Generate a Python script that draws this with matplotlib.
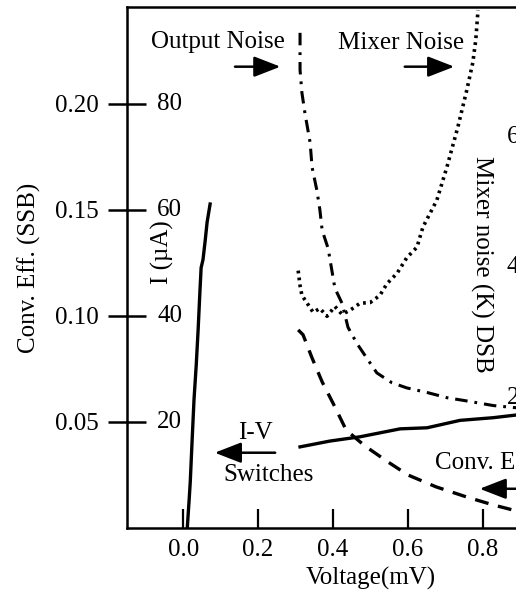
"""Recreate the SIS mixer I-V / conversion efficiency / noise figure."""

import matplotlib
matplotlib.use("Agg")
import matplotlib.pyplot as plt

plt.rcParams["font.family"] = ["Liberation Serif", "DejaVu Serif"]
plt.rcParams["font.size"] = 18
plt.rcParams["lines.scale_dashes"] = False

# I-V curve below the switching point (V in mV, I in uA)
iv_v = [0.011, 0.016, 0.019, 0.024, 0.029, 0.035, 0.040, 0.045, 0.048, 0.053, 0.059, 0.064, 0.072]
iv_i = [0.0, 5.3, 8.7, 16.6, 24.2, 30.8, 37.4, 44.9, 49.1, 50.6, 54.3, 57.7, 61.1]

# I-V branch after switching
sw_v = [0.312, 0.392, 0.472, 0.579, 0.651, 0.739, 0.827, 0.888, 0.95]
sw_i = [15.3, 16.4, 17.2, 18.7, 18.9, 20.3, 20.8, 21.3, 22.2]

# conversion efficiency (SSB)
eff_v = [0.307, 0.320, 0.344, 0.371, 0.405, 0.435, 0.485, 0.547, 0.600, 0.675, 0.757, 0.827, 0.880, 0.93]
eff_y = [0.0934, 0.0911, 0.0802, 0.0689, 0.0571, 0.0462, 0.0387, 0.0311, 0.0250,
         0.0194, 0.0146, 0.0109, 0.0085, 0.0068]

# output noise (K)
out_v = [0.312, 0.312, 0.317, 0.325, 0.339, 0.344, 0.357, 0.365, 0.371, 0.387, 0.397, 0.405,
         0.424, 0.440, 0.464, 0.491, 0.517, 0.557, 0.597, 0.651, 0.704, 0.757, 0.827, 0.880, 0.95]
out_t = [76.0, 70.3, 66.8, 63.7, 59.1, 55.4, 51.8, 48.8, 45.7, 42.9, 39.5, 36.8,
         34.5, 30.8, 28.3, 26.0, 23.8, 22.3, 21.5, 20.8, 20.0, 19.5, 18.8, 18.5, 18.2]

# mixer noise DSB (K)
mix_v = [0.307, 0.312, 0.317, 0.331, 0.347, 0.365, 0.384, 0.405, 0.424, 0.445, 0.472, 0.499,
         0.525, 0.544, 0.571, 0.597, 0.624, 0.640, 0.677, 0.704, 0.733, 0.757, 0.773, 0.781, 0.787]
mix_t = [39.5, 37.2, 35.7, 34.5, 33.1, 33.7, 32.5, 34.0, 32.8, 33.4, 34.5, 34.6,
         35.7, 37.5, 39.1, 41.5, 43.1, 46.2, 50.3, 55.4, 61.5, 67.2, 71.4, 74.9, 79.5]

eff_ticks = [0.05, 0.10, 0.15, 0.20]
i_ticks = [20, 40, 60, 80]
t_ticks = [20, 40, 60]
v_ticks = [0.0, 0.2, 0.4, 0.6, 0.8, 1.0]

I_MAX = 98.3
T_MAX = 80.0

fig = plt.figure(figsize=(5.16, 5.93), dpi=100)
ax = fig.add_axes([0.246, 0.1096, 0.944, 0.879])
ax.set_xlim(-0.15, 1.15)
ax.set_ylim(0, I_MAX / 400)
ax_i = ax.twinx()
ax_i.set_ylim(0, I_MAX)
ax_t = ax.twinx()
ax_t.set_ylim(0, T_MAX)
for a in (ax_i, ax_t):
    a.axis("off")

for sp in ax.spines.values():
    sp.set_linewidth(1.8)

ax.set_xticks(v_ticks)
ax.set_xticklabels([f"{v:.1f}" for v in v_ticks])
ax.tick_params(axis="x", direction="in", length=13.5, width=1.6, pad=8)
ax.set_yticks(eff_ticks)
ax.set_yticklabels([f"{e:.2f}" for e in eff_ticks])
ax.tick_params(axis="y", direction="inout", length=27, width=1.8, pad=7, right=False)
ax.set_xlabel("Voltage(mV)", labelpad=4)
ax.set_ylabel("Conv. Eff. (SSB)", labelpad=10)

for v in i_ticks:
    ax_i.text(-0.069, v, str(v), ha="left", va="center")
for t in t_ticks:
    ax_t.text(0.864, t, str(t), ha="left", va="center")
ax_i.text(-0.054, 52, "I (\u00b5A)", rotation=90, ha="center", va="center")
ax_t.text(0.797, 40.5, "Mixer noise (K) DSB", rotation=270, ha="center", va="center")

ax_i.plot(iv_v, iv_i, color="black", lw=2.4)
ax_i.plot(sw_v, sw_i, color="black", lw=2.4)
ax.plot(eff_v, eff_y, color="black", lw=2.4, dashes=(10, 7))
ax_t.plot(out_v, out_t, color="black", lw=2.2, dashes=(9, 5, 2, 5))
ax_t.plot(mix_v, mix_t, color="black", lw=2.6, dashes=(2, 3))

arrow = dict(arrowstyle="-|>,head_length=0.9,head_width=0.35", color="black", lw=1.8)
ax_i.text(0.093, 91.7, "Output Noise", ha="center", va="center")
ax_i.annotate("", xy=(0.267, 87.0), xytext=(0.131, 87.0), arrowprops=arrow)
ax_i.text(0.581, 91.5, "Mixer Noise", ha="center", va="center")
ax_i.annotate("", xy=(0.731, 87.0), xytext=(0.584, 87.0), arrowprops=arrow)
ax_i.text(0.192, 17.9, "I-V", ha="center", va="center")
ax_i.annotate("", xy=(0.077, 14.2), xytext=(0.253, 14.2), arrowprops=arrow)
ax_i.text(0.229, 10.0, "Switches", ha="center", va="center")
ax_i.text(0.672, 12.3, "Conv. Eff.", ha="left", va="center")
ax_i.annotate("", xy=(0.784, 7.4), xytext=(0.95, 7.4), arrowprops=arrow)

fig.savefig("out.png", dpi=100)
